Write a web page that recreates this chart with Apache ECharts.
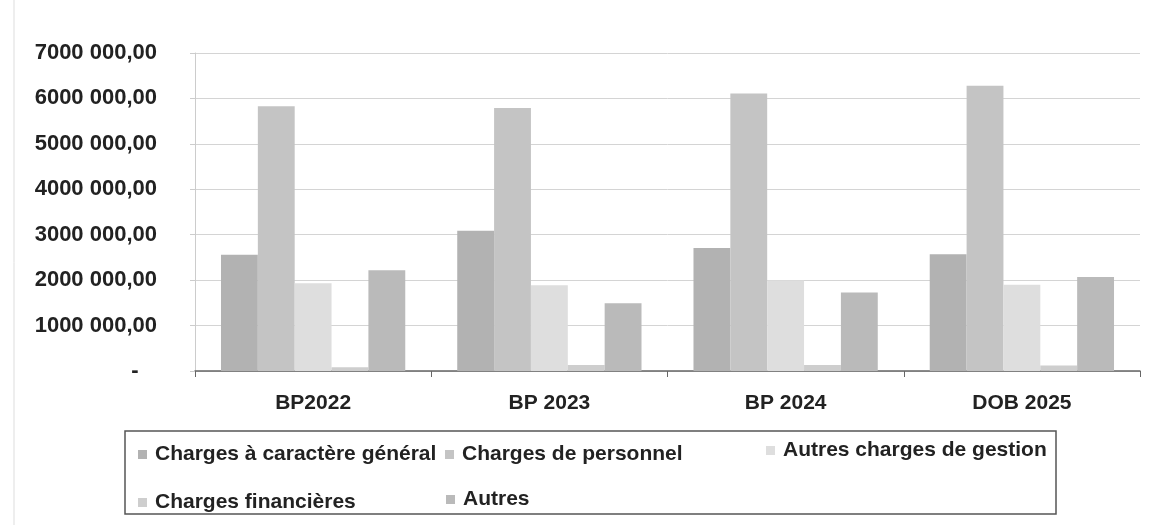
<!DOCTYPE html>
<html>
<head>
<meta charset="utf-8">
<script src="https://cdn.jsdelivr.net/npm/echarts@6/dist/echarts.min.js"></script>
<style>
  html, body { margin: 0; padding: 0; background: #fff; }
  #chart { width: 1161px; height: 525px; }
</style>
</head>
<body>
<div id="chart"></div>
<script>
var categories = ['BP2022', 'BP 2023', 'BP 2024', 'DOB 2025']
var seriesNames = ['Charges à caractère général', 'Charges de personnel', 'Autres charges de gestion', 'Charges financières', 'Autres']
var chargesGeneral = [2560000, 3090000, 2710000, 2570000]
var chargesPersonnel = [5830000, 5790000, 6110000, 6280000]
var autresGestion = [1930000, 1890000, 1990000, 1900000]
var chargesFinancieres = [80000, 130000, 130000, 120000]
var autres = [2220000, 1490000, 1730000, 2070000]

var colors = ['#b2b2b2', '#c4c4c4', '#dedede', '#cecece', '#bababa']
var values = [chargesGeneral, chargesPersonnel, autresGestion, chargesFinancieres, autres]

// format excel style : "7000 000,00", zero shown as "-"
function fmtTick(v) {
  if (v === 0) return '-   '
  var s = String(v)
  return s.slice(0, s.length - 3) + ' ' + s.slice(-3) + ',00'
}

var chart = echarts.init(document.getElementById('chart'))

var series = seriesNames.map(function (name, i) {
  return {
    name: name,
    type: 'bar',
    barGap: '0%',
    barCategoryGap: '22%',
    itemStyle: { color: colors[i] },
    data: values[i]
  }
})

var legendPos = [
  { left: 133, top: 439 },
  { left: 440, top: 439 },
  { left: 761, top: 435 },
  { left: 133, top: 487 },
  { left: 441, top: 484 }
]
var legends = seriesNames.map(function (name, i) {
  return {
    data: [name],
    left: legendPos[i].left,
    top: legendPos[i].top,
    itemWidth: 9,
    itemHeight: 9,
    icon: 'rect',
    selectedMode: false,
    textStyle: {
      fontFamily: 'Liberation Sans, Arial, sans-serif',
      fontWeight: 'bold',
      fontSize: 21,
      color: '#222',
      padding: [0, 0, 0, 3]
    }
  }
})

chart.setOption({
  animation: false,
  color: colors,
  grid: { left: 195, right: 21, top: 53, bottom: 154 },
  legend: legends,
  graphic: [
    {
      type: 'rect',
      shape: { x: 125, y: 431, width: 931, height: 83 },
      style: { fill: 'none', stroke: '#555', lineWidth: 1.5 }
    },
    {
      type: 'line',
      shape: { x1: 14, y1: 0, x2: 14, y2: 525 },
      style: { stroke: '#ddd', lineWidth: 1 }
    }
  ],
  xAxis: {
    type: 'category',
    data: categories,
    axisLine: { lineStyle: { color: '#666', width: 1.5 } },
    axisTick: { show: true, length: 6, lineStyle: { color: '#666' } },
    axisLabel: {
      margin: 22,
      fontFamily: 'Liberation Sans, Arial, sans-serif',
      fontWeight: 'bold',
      fontSize: 21,
      color: '#222'
    }
  },
  yAxis: {
    type: 'value',
    min: 0,
    max: 7000000,
    interval: 1000000,
    axisLine: { show: true, lineStyle: { color: '#ccc' } },
    axisTick: { show: true, length: 5, lineStyle: { color: '#ccc' } },
    splitLine: { lineStyle: { color: '#d4d4d4', width: 1 } },
    axisLabel: {
      margin: 38,
      formatter: fmtTick,
      fontFamily: 'Liberation Sans, Arial, sans-serif',
      fontWeight: 'bold',
      fontSize: 22,
      color: '#222'
    }
  },
  series: series
})
</script>
</body>
</html>
